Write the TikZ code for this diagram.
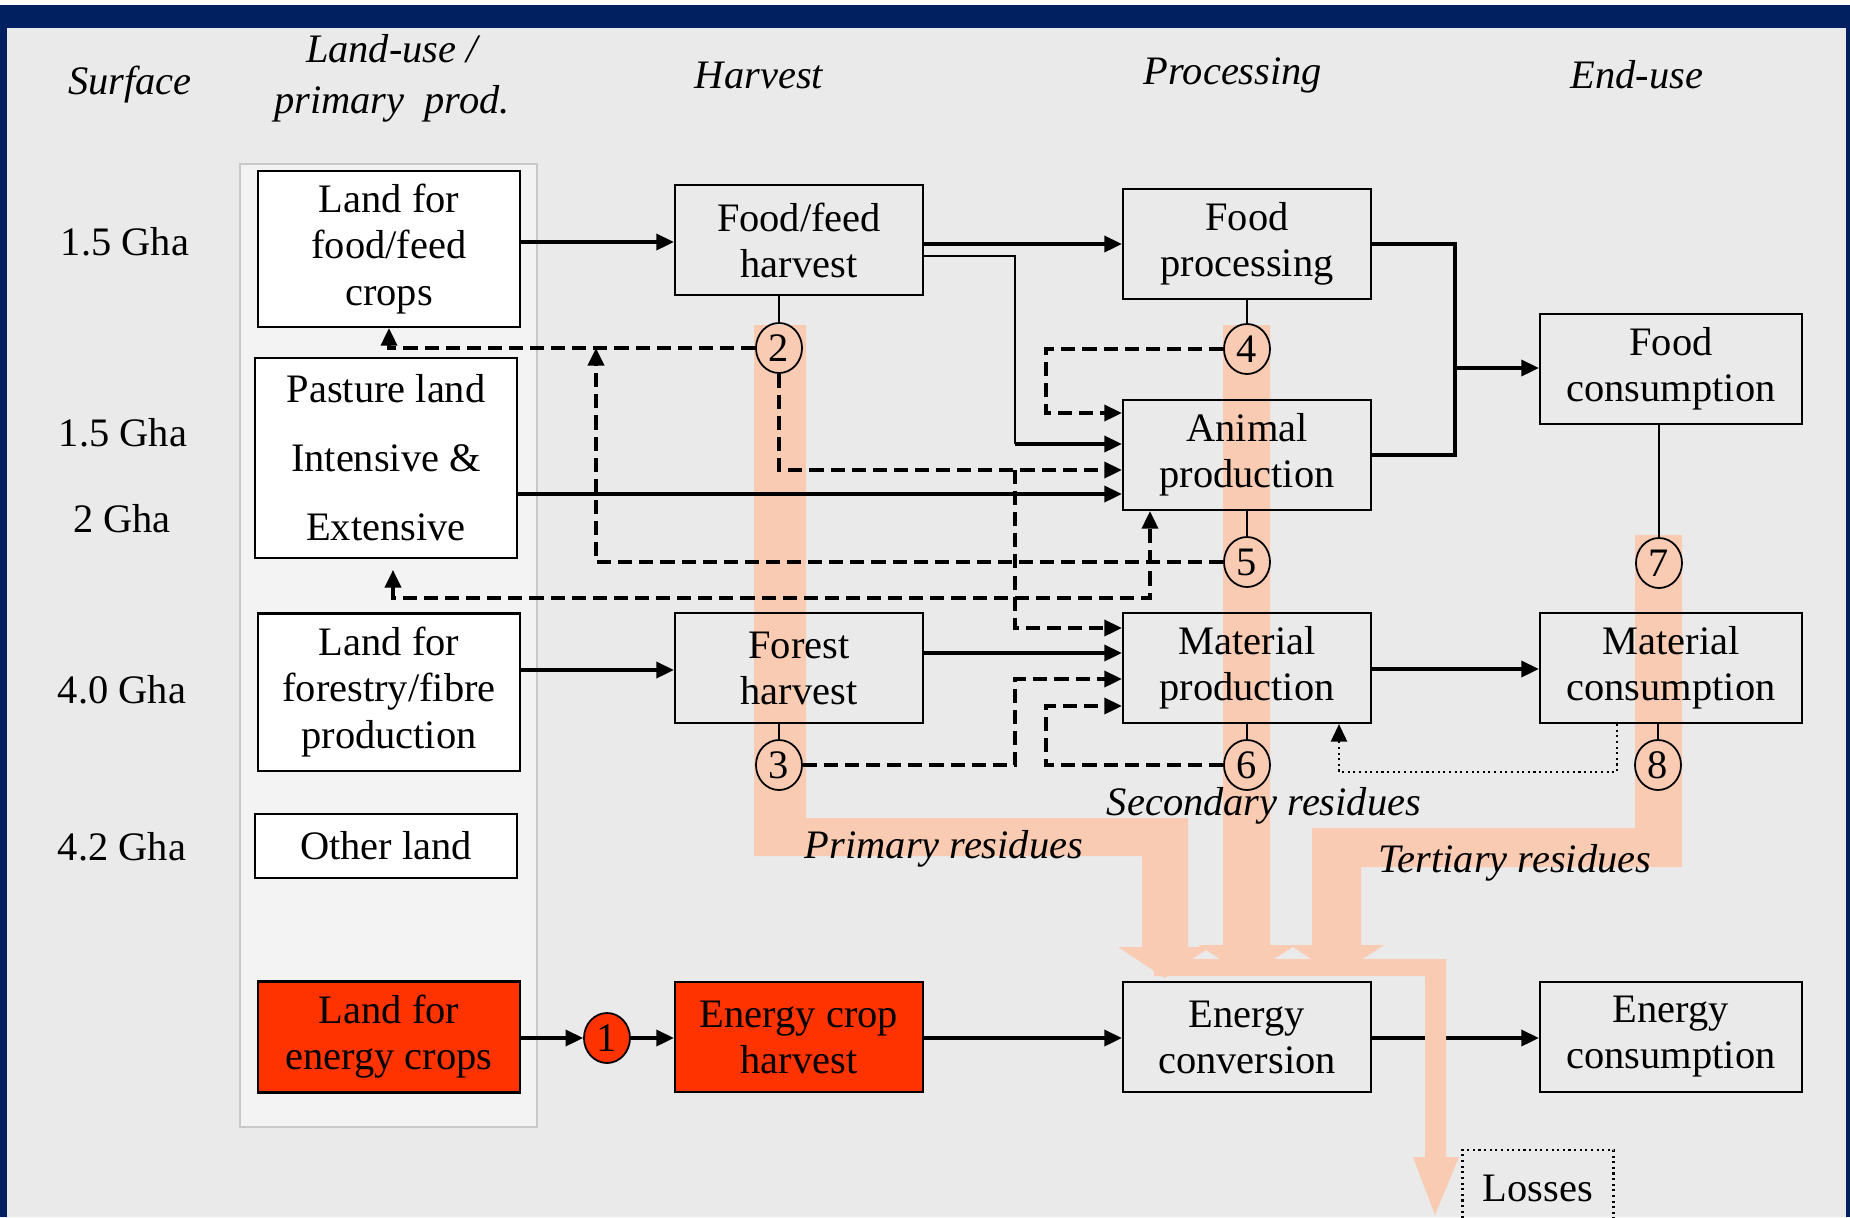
\documentclass[tikz,border=0pt]{standalone}
\usepackage{fontspec}
\setmainfont{Liberation Serif}
\usetikzlibrary{positioning, shapes.geometric, arrows.meta}
\pgfdeclarelayer{background}
\pgfsetlayers{background,main}
\definecolor{navy}{RGB}{0,32,96}
\definecolor{panel}{RGB}{234,234,234}
\definecolor{column}{RGB}{243,243,243}
\definecolor{columnline}{RGB}{200,200,200}
\definecolor{energyred}{RGB}{255,51,0}
\definecolor{residue}{RGB}{249,203,178}

\begin{document}
\begin{tikzpicture}[x=0.01cm, y=-0.01cm, every node/.style={font=\fontsize{11.5}{13.1}\selectfont}]
  % Styles
  \tikzset{
    landbox/.style={rectangle, draw=black, line width=0.6pt, fill=white, minimum width=26.2mm, align=center, inner sep=2pt},
    procbox/.style={rectangle, draw=black, line width=0.6pt, minimum width=24.8mm, minimum height=11mm, align=center},
    usebox/.style={procbox, minimum width=26.2mm},
    num/.style={ellipse, draw=black, line width=0.5pt, minimum width=4.6mm, minimum height=5mm, inner sep=0pt},
    colhead/.style={font=\fontsize{11.5}{14.5}\selectfont\itshape, align=center},
    flow/.style={-{Triangle[length=5pt, width=4.6pt]}, line width=0.9pt},
    pipe/.style={line width=0.9pt},
    link/.style={line width=0.4pt},
    dflow/.style={flow, dash pattern=on 4pt off 2pt},
    dotflow/.style={flow, line width=0.6pt, densely dotted},
    band/.style={fill=residue, draw=none}
  }
  \useasboundingbox (0,0) rectangle (1850,1217);

  % Column headers
  \node[colhead] (hsurf) at (130,85) {Surface};
  \node[colhead] (hland) at (392,78) {Land-use /\\primary~ prod.};
  \node[colhead] (hharv) at (759,75) {Harvest};
  \node[colhead] (hproc) at (1233,75) {Processing};
  \node[colhead] (hend) at (1637,75) {End-use};

  % Surface areas
  \node (s1) at (125,242) {1.5 Gha};
  \node (s2) at (123,433) {1.5 Gha};
  \node (s3) at (122,519) {2 Gha};
  \node (s4) at (122,690) {4.0 Gha};
  \node (s5) at (122,847) {4.2 Gha};

  % Land-use boxes
  \node[landbox, minimum height=15.6mm] (landfood) at (389,249) {Land for\\food/feed\\crops};
  \node[landbox, minimum height=20mm] (pasture) at (386,458) {Pasture land\\[6.5pt]Intensive \&\\[6.5pt]Extensive};
  \node[landbox, minimum height=15.7mm] (landforest) at (389,692) {Land for\\forestry/fibre\\production};
  \node[landbox, minimum height=6.4mm] (otherland) at (386,846) {Other land};
  \node[landbox, fill=energyred, minimum height=11.1mm] (landenergy) at (389,1037) {Land for\\energy crops};

  % Harvest, processing and end-use
  \node[procbox] (foodharvest) at (799,240) {Food/feed\\harvest};
  \node[procbox] (forestharvest) at (799,668) {Forest\\harvest};
  \node[procbox, fill=energyred] (energyharvest) at (799,1037) {Energy crop\\harvest};
  \node[procbox] (foodproc) at (1247,244) {Food\\processing};
  \node[procbox] (animal) at (1247,455) {Animal\\production};
  \node[procbox] (material) at (1247,668) {Material\\production};
  \node[procbox] (energyconv) at (1247,1037) {Energy\\conversion};
  \node[usebox] (foodcons) at (1671,369) {Food\\consumption};
  \node[usebox] (matcons) at (1671,668) {Material\\consumption};
  \node[usebox] (energycons) at (1671,1037) {Energy\\consumption};
  \node[draw=black, densely dotted, line width=0.6pt, minimum width=15.1mm, minimum height=7.6mm] (losses) at (1538,1188) {Losses};

  % Numbered flows
  \node[num, fill=energyred] (c1) at (607,1038) {1};
  \node[num] (c2) at (779,348) {2};
  \node[num] (c3) at (779,765) {3};
  \node[num] (c4) at (1247,349) {4};
  \node[num] (c5) at (1247,562) {5};
  \node[num] (c6) at (1247,765) {6};
  \node[num] (c7) at (1659,563) {7};
  \node[num] (c8) at (1658,765) {8};

  % Residue labels
  \node[colhead] (primres) at (944,849) {Primary residues};
  \node[colhead] (secres) at (1264,806) {Secondary residues};
  \node[colhead] (tertres) at (1515,863) {Tertiary residues};

  % Background, land column and residue flows
  \begin{pgfonlayer}{background}
    \fill[navy] (0,5) rectangle (1850,1217);
    \fill[panel] (7,28) rectangle (1846,1217);
    \draw[columnline, fill=column, line width=0.8pt] (240,164) rectangle (537,1127);
    \fill[band] (754,325) -- (806,325) -- (806,818) -- (1188,818) -- (1188,947) -- (1210,947) -- (1165,978)
      -- (1118,947) -- (1142,947) -- (1142,856) -- (754,856) -- cycle;
    \fill[band] (1223,325) -- (1270,325) -- (1270,945) -- (1296,945) -- (1247,976) -- (1198,945) -- (1223,945) -- cycle;
    \fill[band] (1635,535) -- (1682,535) -- (1682,867) -- (1361,867) -- (1361,945) -- (1384,945) -- (1337,976)
      -- (1290,945) -- (1312,945) -- (1312,828) -- (1635,828) -- cycle;
  \end{pgfonlayer}

  % Links to numbered flows
  \draw[link] (c2 |- foodharvest.south) -- (c2);
  \draw[link] (c3 |- forestharvest.south) -- (c3);
  \draw[link] (c4 |- foodproc.south) -- (c4);
  \draw[link] (c5 |- animal.south) -- (c5);
  \draw[link] (c6 |- material.south) -- (c6);
  \draw[link] (c7 |- foodcons.south) -- (c7);
  \draw[link] (c8 |- matcons.south) -- (c8);

  % Main flows
  \draw[flow] (landfood.east |- 0,242) -- (foodharvest.west |- 0,242);
  \draw[flow] (foodharvest.east |- 0,244) -- (foodproc.west |- 0,244);
  \coordinate (feedturn) at (1015,444);
  \draw[link, line width=0.6pt] (foodharvest.east |- 0,256) -| (feedturn);
  \draw[flow] (feedturn) -- (animal.west |- feedturn);
  \draw[flow] (pasture.east |- 0,494) -- (animal.west |- 0,494);
  \coordinate (foodjoin) at (1455,368);
  \draw[pipe] (foodproc.east) -| (foodjoin);
  \draw[pipe] (animal.east) -| (foodjoin);
  \draw[flow] (foodjoin) -- (foodcons.west |- foodjoin);
  \draw[flow] (landforest.east |- 0,670) -- (forestharvest.west |- 0,670);
  \draw[flow] (forestharvest.east |- 0,653) -- (material.west |- 0,653);
  \draw[flow] (material.east |- 0,669) -- (matcons.west |- 0,669);
  \draw[flow] (landenergy.east |- c1) -- (c1);
  \draw[flow] (c1) -- (energyharvest.west |- c1);
  \draw[flow] (energyharvest.east |- c1) -- (energyconv.west |- c1);
  \draw[flow] (energyconv.east |- 0,1038) -- (energycons.west |- 0,1038);

  % Residue recycling
  \coordinate (foodret) at (596,348);
  \coordinate (feedsplit) at (1015,470);
  \coordinate (procturn) at (1046,413);
  \coordinate (harvturn) at (1015,679);
  \coordinate (matturn) at (1046,706);
  \coordinate (pastgap) at (393,570);
  \coordinate (manure) at (1150,598);
  \coordinate (tertturn) at (1339,772);
  \draw[dflow] (c2.west) -| (landfood.south);
  \draw[dflow] (c5.west) -| (foodret);
  \draw[dflow] (c2.south) |- (animal.west |- feedsplit);
  \draw[dflow] (feedsplit) |- (material.west |- 0,628);
  \draw[dflow] (c4.west) -| (procturn) -- (animal.west |- procturn);
  \draw[dflow] (c3.east) -| (harvturn) -- (material.west |- harvturn);
  \draw[dflow] (c6.west) -| (matturn) -- (material.west |- matturn);
  \draw[dflow, {Triangle[length=5pt, width=4.6pt]}-{Triangle[length=5pt, width=4.6pt]}] (pastgap) |- (manure) -- (animal.south -| manure);
  \draw[dotflow] (matcons.south -| 1617,0) |- (tertturn) -- (material.south -| tertturn);

  % Residues to energy conversion and losses
  \fill[band] (1154,959) -- (1446,959) -- (1446,1157) -- (1459,1157) -- (1435,1215) -- (1413,1157) -- (1425,1157)
    -- (1425,976) -- (1154,976) -- cycle;
\end{tikzpicture}
\end{document}
